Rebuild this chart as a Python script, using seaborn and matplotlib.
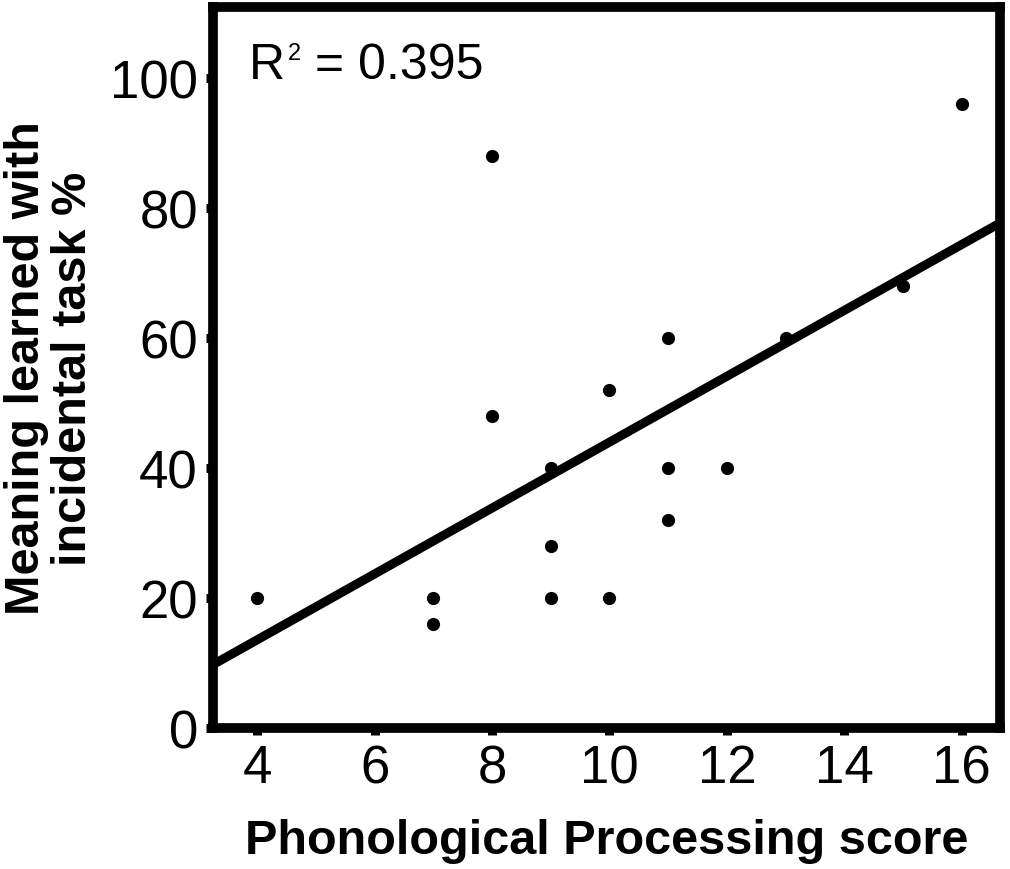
import matplotlib
matplotlib.use("Agg")
import matplotlib.pyplot as plt
import seaborn as sns
import pandas as pd

phon_score = [4, 7, 7, 8, 8, 9, 9, 9, 10, 10, 11, 11, 11, 12, 13, 15, 16]
meaning_pct = [20, 20, 16, 88, 48, 40, 28, 20, 52, 20, 60, 40, 32, 40, 60, 68, 96]
x_ticks = [4, 6, 8, 10, 12, 14, 16]
y_ticks = [0, 20, 40, 60, 80, 100]

df = pd.DataFrame({"score": phon_score, "meaning": meaning_pct})

sns.set_theme(style="ticks")
plt.rcParams["font.family"] = ["Liberation Sans", "DejaVu Sans"]
plt.rcParams["text.color"] = "black"
plt.rcParams["axes.labelcolor"] = "black"

fig = plt.figure(figsize=(10.1, 8.7), dpi=100)
ax = fig.add_axes([0.211, 0.162, 0.779, 0.829])
ax.set_xlim(3.25, 16.65)
ax.set_ylim(0, 111)

sns.regplot(
    data=df, x="score", y="meaning", ax=ax, ci=None, truncate=False,
    scatter_kws={"s": 90, "color": "black", "linewidths": 0, "alpha": 1},
    line_kws={"color": "black", "linewidth": 6.5, "solid_capstyle": "butt"},
)

ax.set_xlim(3.25, 16.65)
ax.set_ylim(0, 111)
ax.set_xticks(x_ticks)
ax.set_yticks(y_ticks)
ax.tick_params(axis="both", direction="out", length=5, width=6.5,
               labelsize=38, color="black", labelcolor="black", pad=6)
for side in ["left", "right", "top", "bottom"]:
    ax.spines[side].set_visible(True)
    ax.spines[side].set_linewidth(7)
    ax.spines[side].set_color("black")

ax.set_xlabel("Phonological Processing score", fontsize=35, fontweight="bold", labelpad=18)
ax.set_ylabel("Meaning learned with\nincidental task %", fontsize=35, fontweight="bold",
              labelpad=10, linespacing=1.05)

# R² label: small raised "2" as in the original figure
r_txt = ax.text(0.046, 0.9015, "R", transform=ax.transAxes, fontsize=36,
                ha="left", va="baseline")
sup = ax.annotate("2", xy=(1, 0.928), xycoords=(r_txt, ax.transAxes),
                  xytext=(2, 0), textcoords="offset points", fontsize=17,
                  ha="left", va="baseline")
ax.annotate(" = 0.395", xy=(1, 0.9015), xycoords=(sup, ax.transAxes),
            fontsize=36, ha="left", va="baseline")

fig.savefig("out.png", dpi=100)
